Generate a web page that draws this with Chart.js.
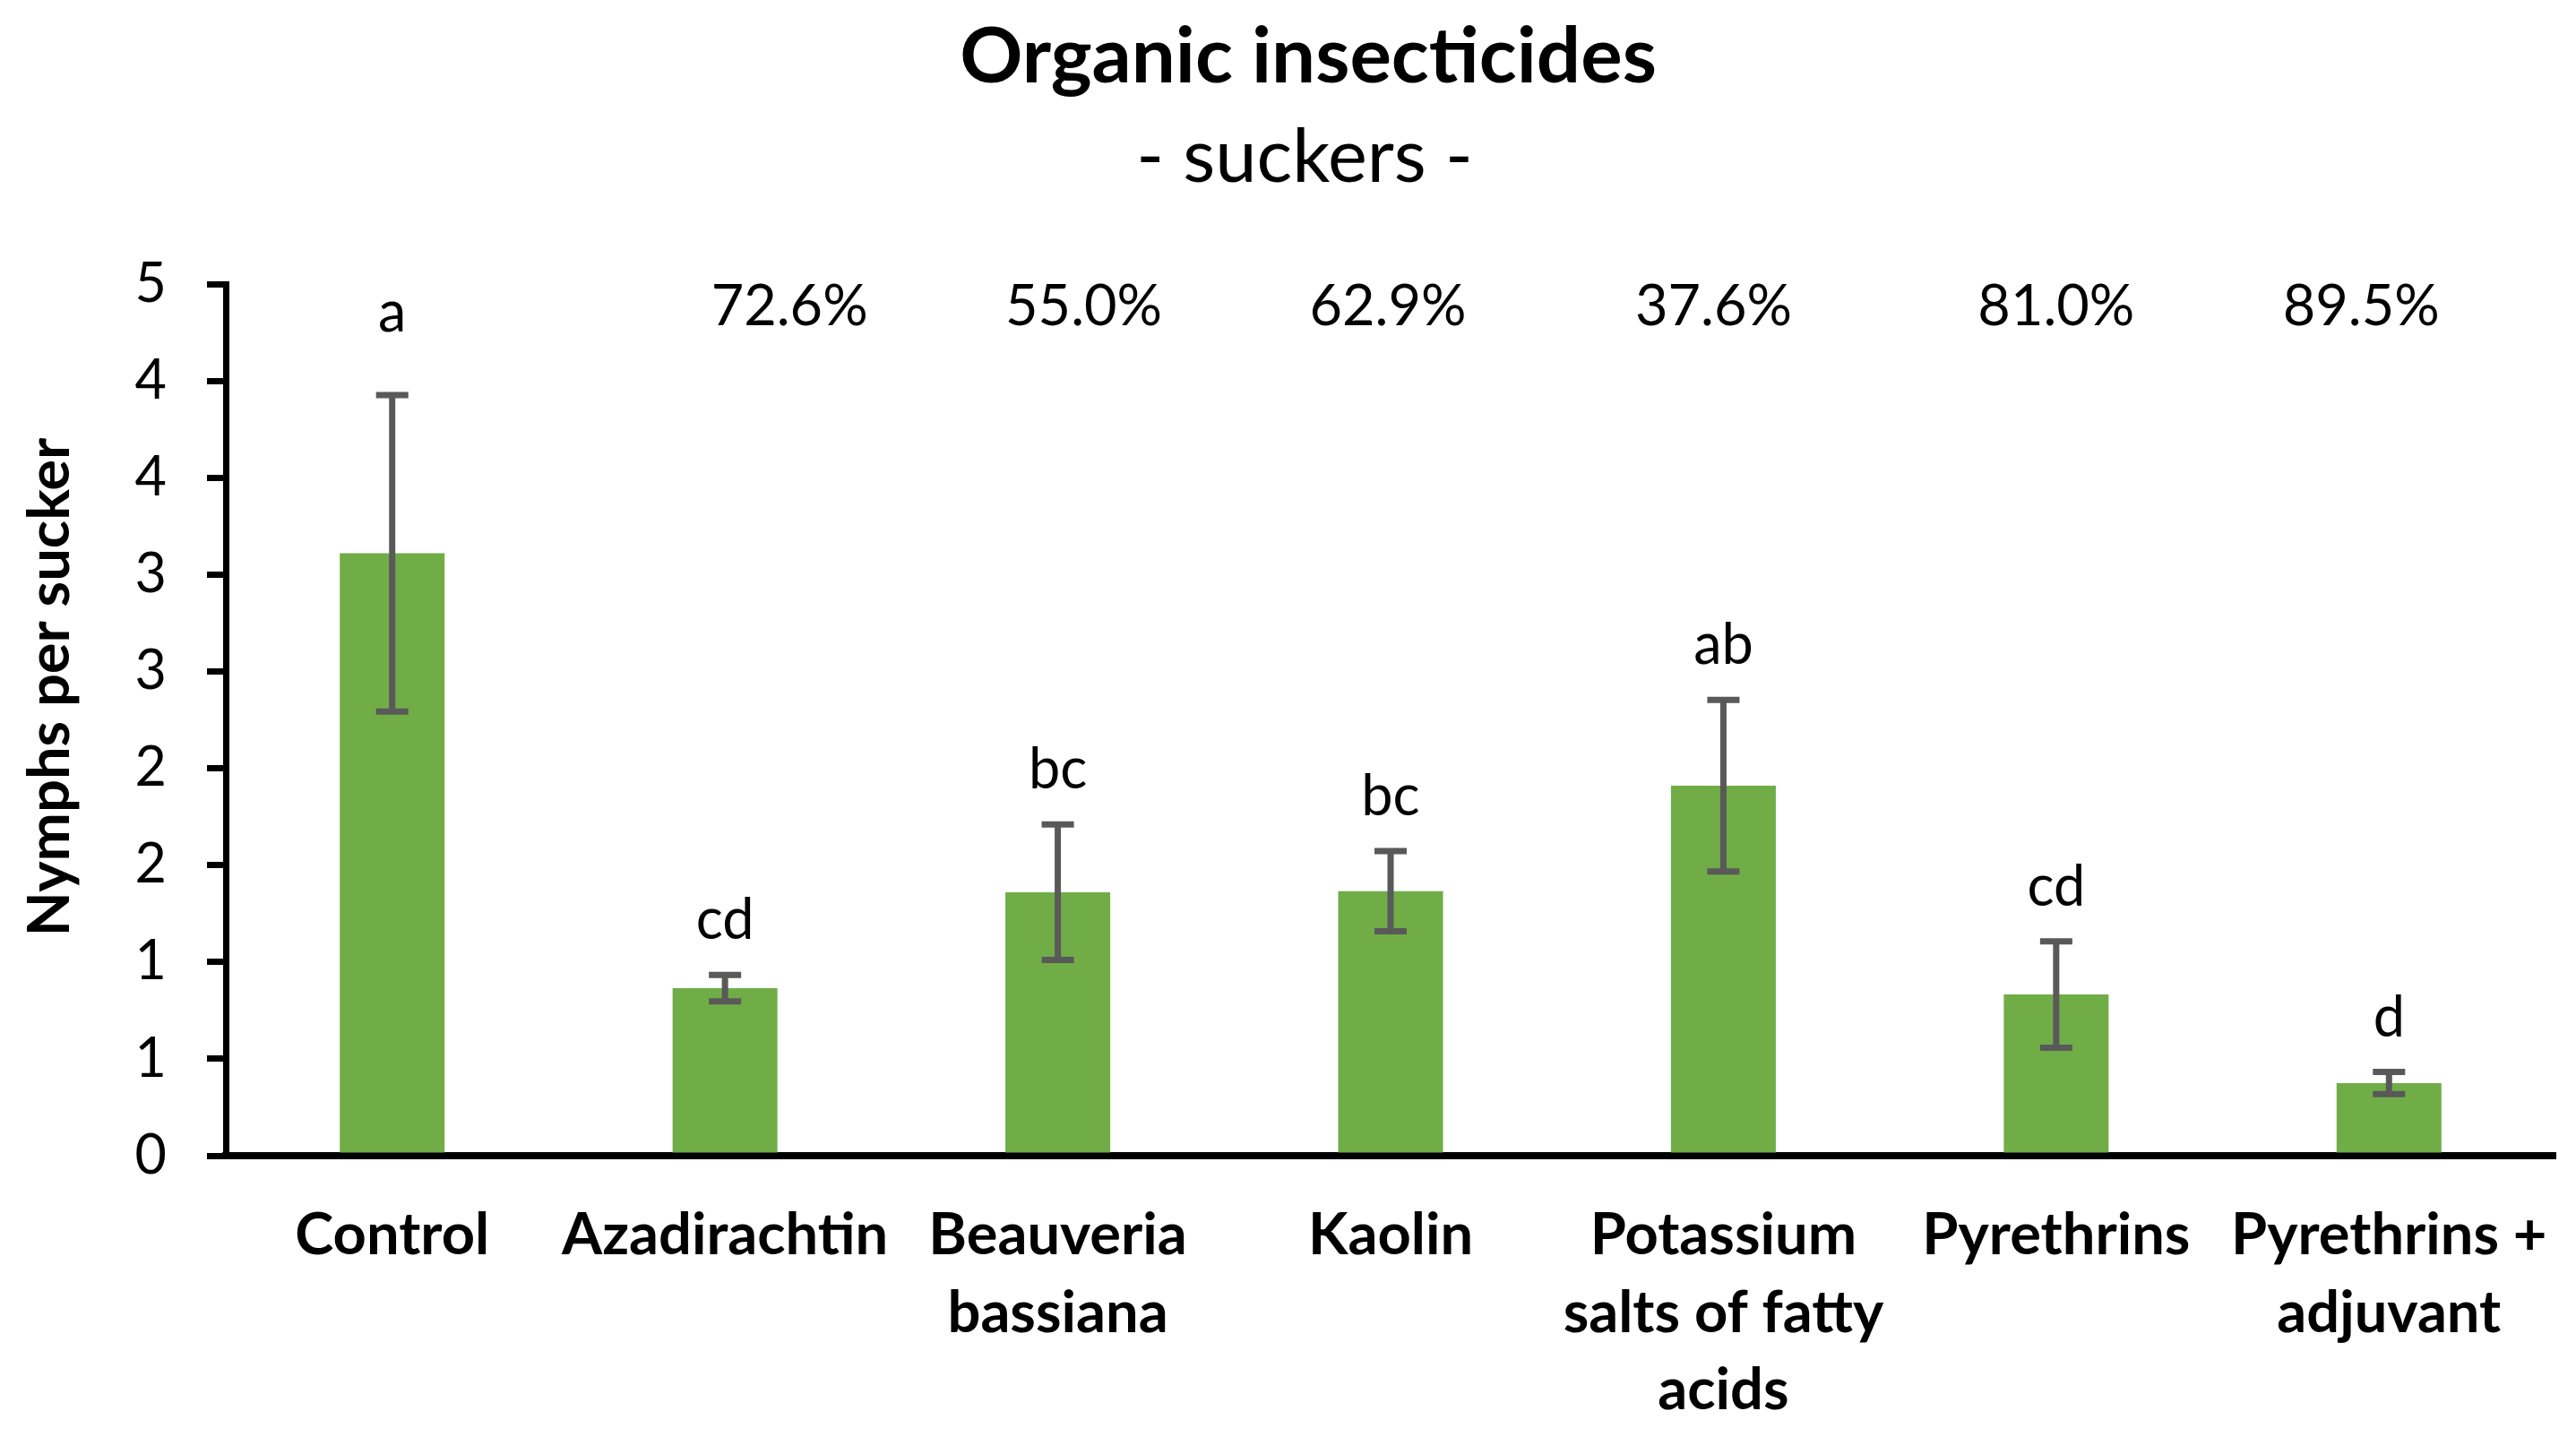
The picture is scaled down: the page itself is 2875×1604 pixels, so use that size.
<!DOCTYPE html>
<html>
<head>
<meta charset="utf-8">
<script src="https://cdn.jsdelivr.net/npm/chart.js@4.4.1/dist/chart.umd.min.js"></script>
<style>
  html, body { margin: 0; padding: 0; background: #fff; }
  #wrap { width: 2875px; height: 1604px; position: relative; }
</style>
</head>
<body>
<div id="wrap"><canvas id="myChart"></canvas></div>
<script>
// data
const categories = [
  ['Control'],
  ['Azadirachtin'],
  ['Beauveria', 'bassiana'],
  ['Kaolin'],
  ['Potassium', 'salts of fatty', 'acids'],
  ['Pyrethrins'],
  ['Pyrethrins +', 'adjuvant']
];
const nymphs = [3.11, 0.865, 1.36, 1.365, 1.91, 0.832, 0.375];
const stdErr = [0.817, 0.068, 0.35, 0.207, 0.443, 0.275, 0.057];
const groupLetters = ['a', 'cd', 'bc', 'bc', 'ab', 'cd', 'd'];
const reduction = ['', '72.6%', '55.0%', '62.9%', '37.6%', '81.0%', '89.5%'];
const yTickLabels = ['0', '1', '1', '2', '2', '3', '3', '4', '4', '5'];

// text boxes in the original are not quite centred over the bars
const pctNudge = [0, 72, 29, -3, -11, 0, -31];

const extras = {
  id: 'extras',
  afterDatasetsDraw(chart) {
    const { ctx, chartArea, scales: { x, y } } = chart;
    ctx.save();

    // error bars
    ctx.strokeStyle = '#595959';
    ctx.lineWidth = 7;
    nymphs.forEach((m, i) => {
      const cx = x.getPixelForValue(i);
      const top = y.getPixelForValue(m + stdErr[i]);
      const bot = y.getPixelForValue(m - stdErr[i]);
      ctx.beginPath();
      ctx.moveTo(cx, top); ctx.lineTo(cx, bot);
      ctx.moveTo(cx - 18, top); ctx.lineTo(cx + 18, top);
      ctx.moveTo(cx - 18, bot); ctx.lineTo(cx + 18, bot);
      ctx.stroke();
    });

    // letters and reduction percentages
    ctx.fillStyle = '#000';
    ctx.textAlign = 'center';
    ctx.textBaseline = 'alphabetic';
    ctx.font = '63px Lato';
    nymphs.forEach((m, i) => {
      const cx = x.getPixelForValue(i);
      const ly = i === 0 ? chartArea.top + 53 : y.getPixelForValue(m + stdErr[i]) - 40;
      ctx.fillText(groupLetters[i], cx, ly);
      if (reduction[i]) ctx.fillText(reduction[i], cx + pctNudge[i], chartArea.top + 46);
    });

    // titles
    ctx.font = 'bold 87px Lato';
    ctx.fillText('Organic insecticides', 1460, 92);
    ctx.font = '83px Lato';
    ctx.fillText('- suckers -', 1456, 203);

    // y axis title
    ctx.translate(77, 767);
    ctx.rotate(-Math.PI / 2);
    ctx.font = 'bold 65px Lato';
    ctx.fillText('Nymphs per sucker', 0, 0);
    ctx.restore();
  }
};

function draw() {
  const ctx = document.getElementById('myChart').getContext('2d');
  new Chart(ctx, {
    type: 'bar',
    data: {
      labels: categories,
      datasets: [{
        data: nymphs,
        backgroundColor: '#70AD47',
        barPercentage: 0.315,
        categoryPercentage: 1
      }]
    },
    options: {
      responsive: true,
      maintainAspectRatio: false,
      animation: false,
      layout: { padding: { top: 317, right: 23, left: 0, bottom: 0 } },
      plugins: {
        legend: { display: false },
        tooltip: { enabled: false }
      },
      scales: {
        x: {
          z: 1,
          grid: { display: false, drawTicks: false },
          border: { display: true, color: '#000', width: 8 },
          ticks: {
            color: '#000',
            font: { family: 'Lato', weight: 'bold', size: 65, lineHeight: 1.33 },
            padding: 46,
            autoSkip: false,
            maxRotation: 0
          },
          afterFit(s) {
            s.height = 314;
            s.paddingLeft = 0;
            s.paddingRight = 0;
          }
        },
        y: {
          min: 0,
          max: 4.5,
          grid: { drawOnChartArea: false, color: '#000', lineWidth: 7, tickLength: 21 },
          border: { color: '#000', width: 7 },
          ticks: {
            stepSize: 0.5,
            color: '#000',
            font: { family: 'Lato', size: 61 },
            padding: 45,
            callback: (v, i) => yTickLabels[i]
          },
          afterFit(s) { s.width = 252; }
        }
      }
    },
    plugins: [extras]
  });
}

Promise.all([
  document.fonts.load('61px Lato'),
  document.fonts.load('bold 62px Lato')
]).then(draw, draw);
</script>
</body>
</html>
